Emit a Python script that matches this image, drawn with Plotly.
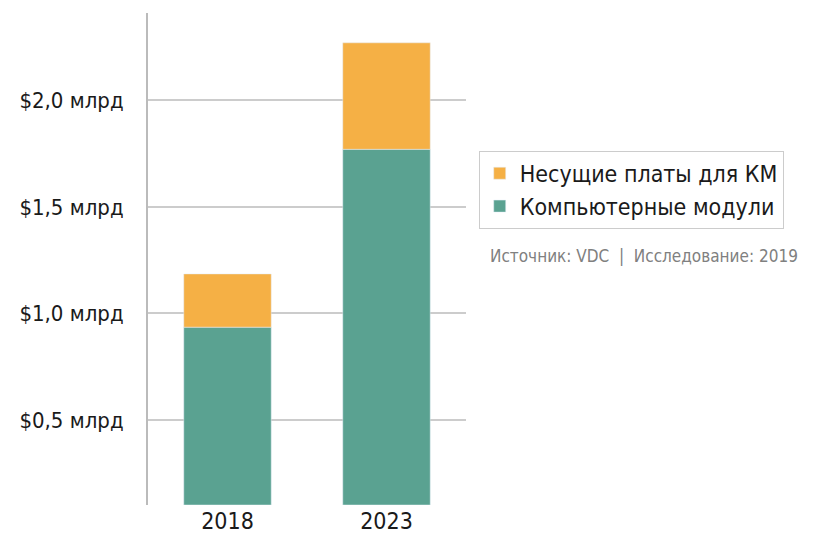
import plotly.graph_objects as go

years = ["2018", "2023"]
modules = [0.935, 1.77]     # top of green segment
carriers = [0.25, 0.50]
tick_vals = [0.5, 1.0, 1.5, 2.0]
tick_text = ["$0,5 млрд", "$1,0 млрд", "$1,5 млрд", "$2,0 млрд"]

FONT = "DejaVu Sans Condensed, Liberation Sans Narrow, sans-serif"
BASE = 0.1

fig = go.Figure()
fig.add_trace(go.Bar(x=years, y=[m - BASE for m in modules], base=BASE,
                     name="Компьютерные модули", marker_color="#5aa291", width=0.55))
fig.add_trace(go.Bar(x=years, y=carriers, base=modules,
                     name="Несущие платы для КМ", marker_color="#f5b045", width=0.55))

fig.update_layout(
    width=833, height=542,
    margin=dict(l=140, r=375, t=5, b=45, autoexpand=False),
    plot_bgcolor="white", paper_bgcolor="white",
    barmode="overlay",
    font=dict(family=FONT, size=22, color="#1a1a1a"),
    legend=dict(x=1.04, y=0.72, xanchor="left", yanchor="top",
                traceorder="reversed", bordercolor="#cccccc", borderwidth=1,
                font=dict(size=23), itemwidth=30, tracegroupgap=8),
    xaxis=dict(range=[-0.5, 1.5], showline=False, ticks="", automargin=False,
               tickfont=dict(size=23)),
    yaxis=dict(range=[BASE, 2.41], tickvals=tick_vals, ticktext=tick_text,
               showgrid=True, gridcolor="#cccccc", gridwidth=1.5,
               showline=True, linecolor="#bbbbbb", linewidth=2, automargin=False,
               ticks="", ticklabelstandoff=18, zeroline=False),
    annotations=[dict(text="Источник: VDC  |  Исследование: 2019",
                      xref="paper", yref="paper", x=1.07, y=0.53,
                      xanchor="left", yanchor="top", showarrow=False,
                      font=dict(size=17, color="#808080"))],
)

fig.write_html("out.html")
